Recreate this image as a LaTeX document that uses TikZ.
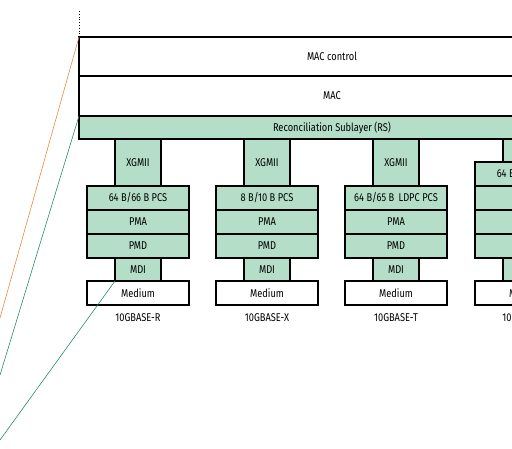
\documentclass[tikz,border=0pt]{standalone}
\usepackage{fontspec}
\setmainfont{Fira Sans}[FakeStretch=0.82]
\definecolor{boxgreen}{RGB}{180,222,200}
\definecolor{lineorange}{RGB}{228,140,60}
\definecolor{linegreen}{RGB}{40,140,100}
\begin{document}
\begin{tikzpicture}[x=1pt,y=-1pt,
  every node/.style={font=\fontsize{11.3}{13}\selectfont},
  bx/.style={draw=black,line width=1.5pt,inner sep=0pt,outer sep=0pt,anchor=center},
  gbox/.style={bx,fill=boxgreen},
  wbox/.style={bx,fill=white},
  wide/.style={minimum width=102pt,minimum height=24pt},
  narrow/.style={minimum width=46pt,minimum height=23pt},
  lab/.style={inner sep=0pt,anchor=center},
  conn/.style={line width=0.6pt}]
\useasboundingbox (0,0) rectangle (512,449);
\clip (0,0) rectangle (512,449);
% top boxes
\node[wbox,minimum width=506pt,minimum height=39pt] (macc) at (332,56.5) {MAC control};
\node[wbox,minimum width=506pt,minimum height=40pt] (mac) at (332,96) {MAC};
\node[gbox,minimum width=506pt,minimum height=23pt] (rs) at (332,127.5) {Reconciliation Sublayer (RS)};
% column 1
\node[gbox,minimum width=46pt,minimum height=47pt] (x1) at (138,162.5) {XGMII};
\node[gbox,wide] (pcs1) at (138,198) {64 B/66 B PCS};
\node[gbox,wide] (pma1) at (138,222) {PMA};
\node[gbox,wide] (pmd1) at (138,246) {PMD};
\node[gbox,narrow] (mdi1) at (138,269.5) {MDI};
\node[wbox,wide] (med1) at (138,293) {Medium};
\node[lab] (l1) at (138,318) {10GBASE-R};
% column 2
\node[gbox,minimum width=46pt,minimum height=47pt] (x2) at (267,162.5) {XGMII};
\node[gbox,wide] (pcs2) at (267,198) {8 B/10 B PCS};
\node[gbox,wide] (pma2) at (267,222) {PMA};
\node[gbox,wide] (pmd2) at (267,246) {PMD};
\node[gbox,narrow] (mdi2) at (267,269.5) {MDI};
\node[wbox,wide] (med2) at (267,293) {Medium};
\node[lab] (l2) at (267,318) {10GBASE-X};
% column 3
\node[gbox,minimum width=46pt,minimum height=47pt] (x3) at (396,162.5) {XGMII};
\node[gbox,wide] (pcs3) at (396,198) {64 B/65 B\, LDPC PCS};
\node[gbox,wide] (pma3) at (396,222) {PMA};
\node[gbox,wide] (pmd3) at (396,246) {PMD};
\node[gbox,narrow] (mdi3) at (396,269.5) {MDI};
\node[wbox,wide] (med3) at (396,293) {Medium};
\node[lab] (l3) at (396,318) {10GBASE-T};
% column 4 (cut off at the right edge)
\node[gbox,minimum width=46pt,minimum height=23pt] (x4) at (526,150.5) {};
\node[gbox,wide] (pcs4) at (526,174) {64 B/66 B PCS};
\node[gbox,wide] (wis4) at (526,198) {};
\node[gbox,wide] (pma4) at (526,222) {};
\node[gbox,wide] (pmd4) at (526,246) {};
\node[gbox,narrow] (mdi4) at (526,269.5) {};
\node[wbox,wide] (med4) at (526,293) {Medium};
\node[lab] (l4) at (526,318) {10GBASE-W};
% dotted stub above
\coordinate (dtop) at (79,10);
\draw[line width=0.8pt,dotted] (macc.north west) -- (dtop);
% connectors to the left
\coordinate (o1) at (0,318);
\coordinate (g1) at (0,375);
\coordinate (g2) at (0,440);
\draw[conn,lineorange] (macc.north west) -- (o1);
\draw[conn,linegreen] (rs.north west) -- (g1);
\draw[conn,linegreen] (mdi1.south west) -- (g2);
\end{tikzpicture}
\end{document}
